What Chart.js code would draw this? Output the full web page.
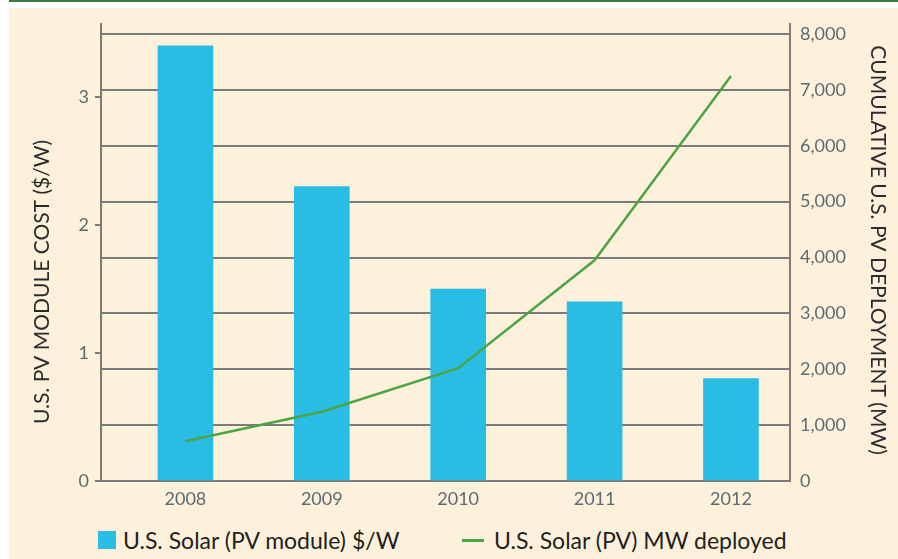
<!DOCTYPE html>
<html>
<head>
<meta charset="utf-8">
<script src="https://cdn.jsdelivr.net/npm/chart.js@4/dist/chart.umd.min.js"></script>
<style>
    body { margin: 0; background: #ffffff; width: 898px; height: 559px; overflow: hidden; position: relative; font-family: Lato, sans-serif; }
    #topRule { position: absolute; left: 9px; top: 0; width: 889px; height: 2px; background: #3c7b3e; }
    #panel { position: absolute; left: 9px; top: 8px; width: 889px; height: 551px; background: #fef1dc; }
    #costChart { position: absolute; left: 0; top: 0; }
    .legendItem { position: absolute; top: 522px; display: flex; align-items: center; font-size: 23px; color: #231f20; height: 20px; }
    .legendItem .swatch { margin-right: 7px; }
</style>
</head>
<body>
<div id="topRule"></div>
<div id="panel">
    <canvas id="costChart" width="889" height="512"></canvas>
    <div id="legend"></div>
</div>
<script>
const years = [2008, 2009, 2010, 2011, 2012];
const moduleCost = [3.4, 2.3, 1.5, 1.4, 0.8];           // $/W
const mwDeployed = [710, 1240, 2020, 3950, 7250];       // cumulative MW
const costTicks = [0, 1, 2, 3];
const mwTicks = [0, 1000, 2000, 3000, 4000, 5000, 6000, 7000, 8000];

const costLabel = 'U.S. Solar (PV module) $/W';
const mwLabel = 'U.S. Solar (PV) MW deployed';
const barColor = '#29bde3';
const lineColor = '#4ba545';
const gridColor = '#7b7b7b';
const tickColor = '#5c6a72';

// left + right axis titles, drawn so the left one can sit a bit lower like the original
const axisTitles = {
    id: 'axisTitles',
    afterDraw (chart) {
        let ctx = chart.ctx;
        let area = chart.chartArea;
        ctx.save();
        ctx.font = '21px Lato';
        ctx.fillStyle = '#2b2b2b';
        ctx.textAlign = 'center';
        ctx.textBaseline = 'middle';

        ctx.save();
        ctx.translate(area.left - 59, area.top + 258);
        ctx.rotate(-Math.PI / 2);
        ctx.fillText('U.S. PV MODULE COST ($/W)', 0, 0);
        ctx.restore();

        ctx.save();
        ctx.translate(area.right + 88, area.top + 226);
        ctx.rotate(Math.PI / 2);
        ctx.fillText('CUMULATIVE U.S. PV DEPLOYMENT (MW)', 0, 0);
        ctx.restore();

        ctx.restore();
    }
};

// fixed axis sizes, and no extra label padding so the plot fills the panel like the original
function fixWidth (w) {
    return scale => {
        scale.width = w;
        scale.paddingTop = 0;
        scale.paddingBottom = 0;
    };
}

let ctx = document.getElementById('costChart');
let costChart = new Chart(ctx, {
    type: 'bar',
    data: {
        datasets: [
            {
                type: 'line',
                label: mwLabel,
                data: years.map((y, i) => ({x: y, y: mwDeployed[i]})),
                yAxisID: 'yMW',
                borderColor: lineColor,
                borderWidth: 2.5,
                pointRadius: 0,
                tension: 0,
                order: 0
            },
            {
                label: costLabel,
                data: years.map((y, i) => ({x: y, y: moduleCost[i]})),
                yAxisID: 'yCost',
                backgroundColor: barColor,
                barThickness: 55,
                order: 1
            }
        ]
    },
    options: {
        responsive: false,
        devicePixelRatio: 1,
        animation: false,
        layout: { padding: { top: 16, left: 0, right: 0, bottom: 0 } },
        plugins: {
            legend: { display: false },
            tooltip: { enabled: false }
        },
        scales: {
            x: {
                type: 'linear',
                offset: false,
                min: 2007.381,
                max: 2012.433,
                afterFit: scale => {
                    scale.height = 39;
                    scale.paddingLeft = 0;
                    scale.paddingRight = 0;
                },
                afterBuildTicks: scale => { scale.ticks = years.map(v => ({value: v})); },
                ticks: {
                    color: tickColor,
                    font: { family: 'Lato', size: 18 },
                    padding: 7,
                    callback: v => String(v)
                },
                grid: { display: false, drawTicks: false },
                border: { display: true, color: gridColor, width: 2 }
            },
            yCost: {
                position: 'left',
                min: 0,
                max: 3.57,
                afterFit: fixWidth(92),
                afterBuildTicks: scale => { scale.ticks = costTicks.map(v => ({value: v})); },
                ticks: {
                    color: tickColor,
                    font: { family: 'Lato', size: 18 },
                    padding: 6
                },
                grid: { drawOnChartArea: false, drawTicks: true, tickLength: 6, color: gridColor, lineWidth: 2 },
                border: { display: true, color: gridColor, width: 2 }
            },
            yMW: {
                position: 'right',
                min: 0,
                max: 8179,
                afterFit: fixWidth(108),
                afterBuildTicks: scale => { scale.ticks = mwTicks.map(v => ({value: v})); },
                ticks: {
                    color: tickColor,
                    font: { family: 'Lato', size: 18 },
                    padding: 10,
                    callback: v => v.toLocaleString('en-US')
                },
                grid: { drawTicks: false, color: gridColor, lineWidth: 2 },
                border: { display: true, color: gridColor, width: 2 }
            }
        }
    },
    plugins: [axisTitles]
});

// html legend, bar item first like the original
let legend = document.getElementById('legend');
legend.innerHTML =
    '<div class="legendItem" style="left:89px"><span class="swatch" style="display:inline-block;width:18px;height:18px;background:' + barColor + '"></span>' + costLabel + '</div>' +
    '<div class="legendItem" style="left:453px"><span class="swatch" style="display:inline-block;width:22px;height:3px;background:' + lineColor + ';margin-right:10px"></span>' + mwLabel + '</div>';
</script>
</body>
</html>
